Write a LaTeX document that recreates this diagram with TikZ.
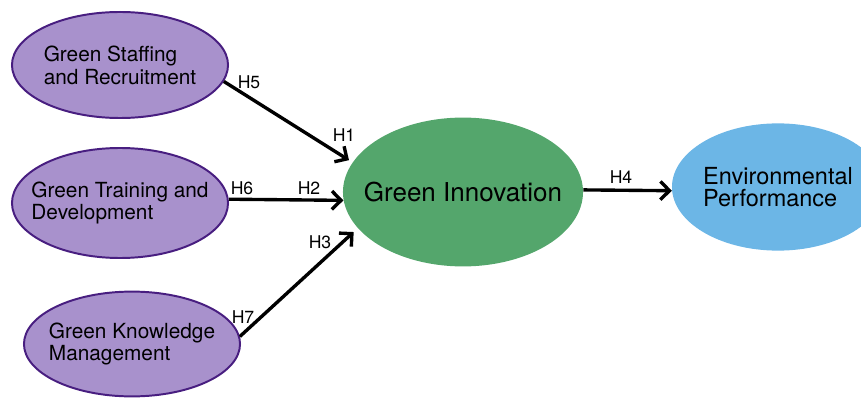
\documentclass[tikz,border=0pt]{standalone}
\usepackage{fontspec}
\setmainfont{TeX Gyre Heros}
\usepackage{tikz}
\usetikzlibrary{shapes.geometric, arrows.meta, positioning}
\definecolor{hrmfill}{RGB}{168,145,204}
\definecolor{hrmline}{RGB}{72,30,128}
\definecolor{innofill}{RGB}{84,166,108}
\definecolor{perffill}{RGB}{108,182,230}
\tikzstyle{hrm} = [ellipse, minimum width=5.4cm, minimum height=2.7cm, inner xsep=-12pt, inner ysep=0pt, align=left, draw=hrmline, line width=1.4pt, fill=hrmfill, font=\fontsize{14.8}{16.2}\selectfont]
\tikzstyle{inno} = [ellipse, minimum width=6cm, minimum height=3.72cm, inner xsep=-12pt, inner ysep=0pt, fill=innofill, font=\fontsize{18.5}{20}\selectfont]
\tikzstyle{perf} = [ellipse, minimum width=5.3cm, minimum height=3.18cm, inner xsep=-12pt, inner ysep=0pt, align=left, fill=perffill, font=\fontsize{16.7}{16}\selectfont]
\tikzstyle{hyp} = [inner sep=0pt, font=\fontsize{12.5}{12.5}\selectfont]
\tikzstyle{arrow} = [line width=2.4pt, -{Straight Barb[length=6.5pt,width=13pt]}]

\begin{document}
\begin{tikzpicture}[x=0.025cm, y=-0.025cm]
    \useasboundingbox (0,0) rectangle (861,400);
    \node (staff) [hrm, minimum height=2.65cm] at (120,65) {Green Staffing\\and Recruitment};
    \node (train) [hrm, minimum height=2.75cm] at (120,203) {Green Training and\\Development};
    \node (know) [hrm, minimum height=2.62cm] at (132,344) {Green Knowledge\\Management};
    \node (innov) [inno] at (463,192) {Green Innovation};
    \node (envperf) [perf] at (778,187) {Environmental\\Performance};
    \draw [arrow, shorten >=3pt] (staff.-9.5) -- (innov.165.5);
    \draw [arrow] (train.2) -- (innov.184);
    \draw [arrow, shorten >=4pt] (know.4) -- (innov.199);
    \draw [arrow] (innov.1) -- (envperf.182);
    \node (h5) [hyp] at (249,82) {H5};
    \node (h1) [hyp] at (344,135) {H1};
    \node (h6) [hyp] at (242,188) {H6};
    \node (h2) [hyp] at (309,188) {H2};
    \node (h3) [hyp] at (320,242) {H3};
    \node (h7) [hyp] at (243,317) {H7};
    \node (h4) [hyp] at (621,177) {H4};
\end{tikzpicture}
\end{document}
